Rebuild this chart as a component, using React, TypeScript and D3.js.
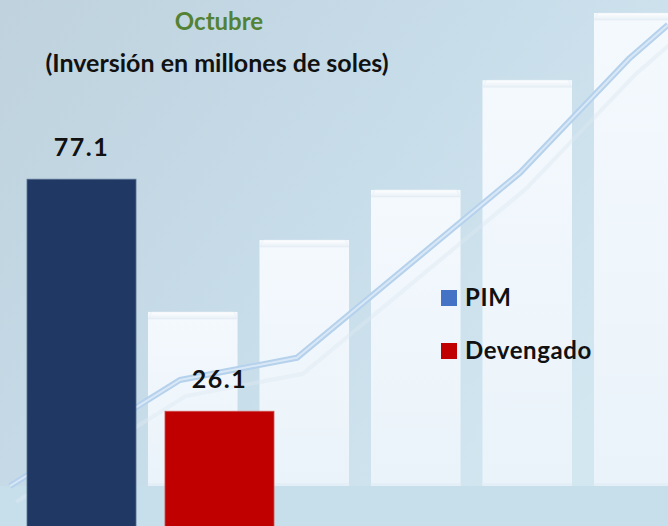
import React from "react";
import * as d3 from "d3";

const W = 668;
const H = 526;

// Main data
const categories = ["PIM", "Devengado"];
const values = [77.1, 26.1];
const barColors = ["#203864", "#C00000"];
const legendColors = ["#4472C4", "#C00000"];
const title = "Octubre";
const subtitle = "(Inversión en millones de soles)";

// Decorative background (picture motif)
const decorCats = ["d1", "d2", "d3", "d4", "d5"];
const decorValues = [36.8, 52, 62.6, 85.8, 100];
const trendX = [0, 0.258, 0.436, 0.775, 0.942, 1.0];
const trendY = [0, 22.4, 27.1, 66.2, 90.5, 97.5];

export default function App() {
  const y = d3.scaleLinear().domain([0, 100]).range([530, 75]);
  const x = d3.scaleBand<string>().domain(categories).range([27, 274]).paddingInner(0.21).paddingOuter(0);

  const dx = d3.scaleBand<string>().domain(decorCats).range([148, 683.5]).paddingInner(0.197).paddingOuter(0);
  const dy = d3.scaleLinear().domain([0, 100]).range([486, 13]);
  const tx = d3.scaleLinear().domain([0, 1]).range([10, 668]);

  const trend = trendX.map((v, i) => [tx(v), dy(trendY[i])] as [number, number]);
  const line = d3.line().curve(d3.curveLinear);
  const trendPath = line(trend) || "";

  const font = "Lato, 'Open Sans', sans-serif";

  return (
    <svg width={W} height={H} style={{ position: "fixed", left: 0, top: 0 }} xmlns="http://www.w3.org/2000/svg">
      <defs>
        <linearGradient id="bg" x1="0" y1="0" x2="1" y2="0.6">
          <stop offset="0" stopColor="#bfd2de" />
          <stop offset="0.55" stopColor="#c7dde9" />
          <stop offset="1" stopColor="#d3e7f1" />
        </linearGradient>
        <linearGradient id="decor" x1="0" y1="0" x2="0" y2="1">
          <stop offset="0" stopColor="#f4f9fd" />
          <stop offset="1" stopColor="#eaf3fa" />
        </linearGradient>
        <linearGradient id="bevel" x1="0" y1="0" x2="0" y2="1">
          <stop offset="0" stopColor="#ffffff" />
          <stop offset="1" stopColor="#e6eff6" />
        </linearGradient>
      </defs>
      <rect x={0} y={0} width={W} height={H} fill="url(#bg)" />
      {/* bottom band */}
      <rect x={0} y={dy(0)} width={W} height={H - dy(0)} fill="#c6dfeb" />

      {/* decorative bars */}
      {decorCats.map((c, i) => {
        const x0 = dx(c)!;
        const bw = dx.bandwidth();
        const top = dy(decorValues[i]);
        const bot = dy(0);
        return (
          <g key={c}>
            <rect x={x0} y={top} width={bw} height={bot - top} fill="url(#decor)" />
            <path
              d={`M${x0},${top + 7} L${x0 + 4},${top} L${x0 + bw - 4},${top} L${x0 + bw},${top + 7} Z`}
              fill="url(#bevel)"
              stroke="#e0eaf2"
              strokeWidth={0.5}
            />
            <rect x={x0} y={bot - 3} width={bw} height={3} fill="#e3eef6" />
          </g>
        );
      })}

      {/* decorative trend line */}
      <path d={trendPath} transform="translate(6,16)" fill="none" stroke="#dde9f2" strokeWidth={4} opacity={0.45} />
      <path d={trendPath} fill="none" stroke="#b5d1ec" strokeWidth={6} strokeLinejoin="round" />
      <path d={trendPath} fill="none" stroke="#d9e8f6" strokeWidth={2} strokeLinejoin="round" />

      {/* title */}
      <text x={219} y={30} textAnchor="middle" fill="#548235" fontFamily={font} fontWeight={700} fontSize={24}>
        {title}
      </text>
      <text x={217} y={72} textAnchor="middle" fill="#111" fontFamily={font} fontWeight={700} fontSize={25}>
        {subtitle}
      </text>

      {/* bars */}
      {categories.map((c, i) => (
        <g key={c}>
          <rect
            x={x(c)!}
            y={y(values[i])}
            width={x.bandwidth()}
            height={y(0) - y(values[i])}
            fill={barColors[i]}
            stroke={i === 0 ? "#5b7291" : "#d05050"}
            strokeWidth={0.8}
          />
          <text
            x={x(c)! + x.bandwidth() / 2}
            y={y(values[i]) - 23}
            textAnchor="middle"
            fill="#111"
            fontFamily={font}
            fontWeight={700}
            fontSize={25}
            letterSpacing={1.5}
          >
            {values[i].toFixed(1)}
          </text>
        </g>
      ))}

      {/* legend */}
      {categories.map((c, i) => (
        <g key={"lg" + c} transform={`translate(441, ${290 + i * 53})`}>
          <rect x={0} y={0} width={16} height={16} fill={legendColors[i]} />
          <text x={24} y={16} fill="#111" fontFamily={font} fontWeight={700} fontSize={24} letterSpacing={0.6}>
            {c}
          </text>
        </g>
      ))}
    </svg>
  );
}
